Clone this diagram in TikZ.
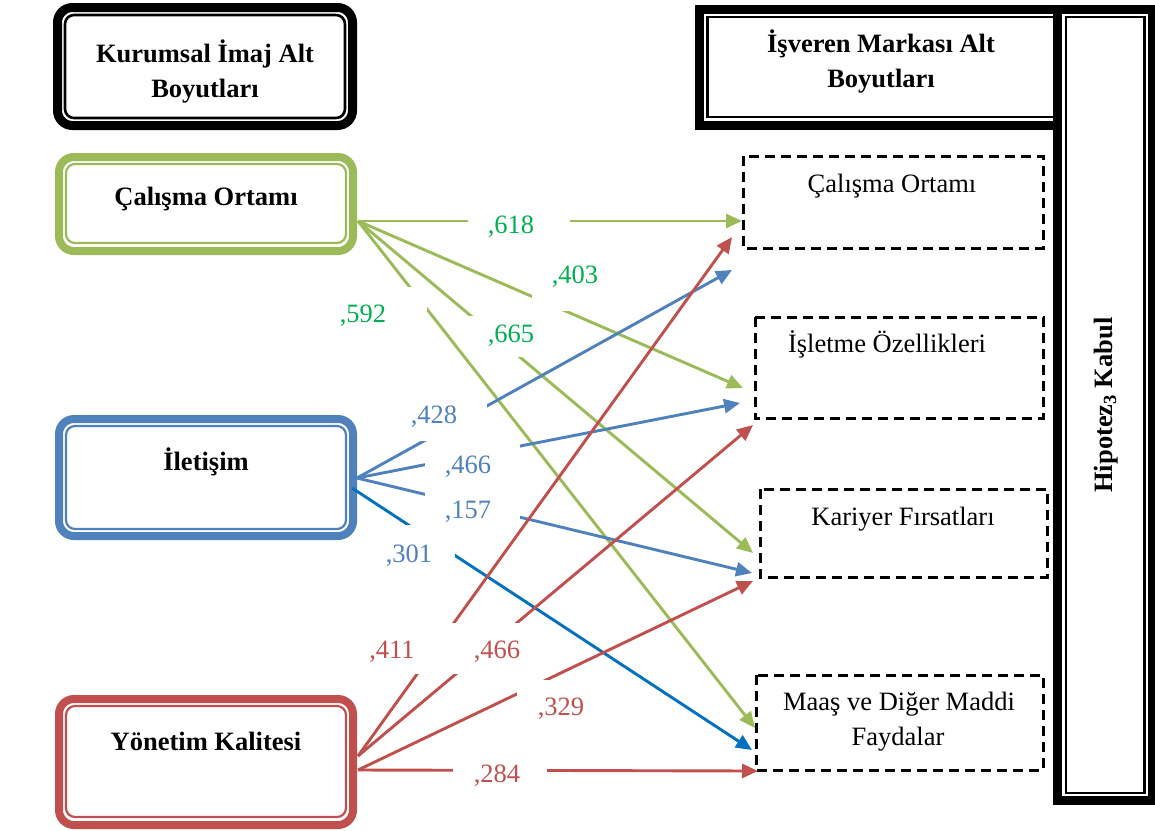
\documentclass[tikz,border=0pt]{standalone}
\usepackage{fontspec}
\setmainfont{Liberation Serif}
\usetikzlibrary{arrows.meta}
\definecolor{cgreen}{HTML}{9BBB59}
\definecolor{cblue}{HTML}{4F81BD}
\definecolor{cred}{HTML}{C0504D}
\definecolor{cdblue}{HTML}{0070C0}
\definecolor{numgreen}{HTML}{00B050}
\begin{document}
\begin{tikzpicture}[x=1pt,y=-1pt,
  txt/.style={font=\fontsize{26.5}{34}\selectfont, inner sep=0pt, anchor=base},
  btxt/.style={txt, font=\fontsize{26.5}{34}\selectfont\bfseries},
  outerframe/.style={line width=8pt, rounded corners=15pt},
  innerframe/.style={line width=2.2pt, rounded corners=9pt},
  heavyframe/.style={line width=9pt},
  thinframe/.style={line width=2.4pt},
  dashbox/.style={draw=black, line width=3pt, dash pattern=on 10pt off 6pt},
  conn/.style={line width=2.9pt, -{Triangle[length=16pt,width=14pt]}},
  mask/.style={fill=white}]

\useasboundingbox (0,0) rectangle (1155,830);
\fill[white] (0,0) rectangle (1155,830);

% ---------- left column: source dimensions ----------
\draw[outerframe, line width=9pt] (57.5,7.5) rectangle (352.5,125.5);
\draw[innerframe, line width=2.6pt] (65,15) rectangle (345,118);
\node[btxt] (kurA) at (205,62) {Kurumsal İmaj Alt};
\node[btxt] (kurB) at (205,97) {Boyutları};

\draw[outerframe, cgreen] (59,157) rectangle (353,251);
\draw[innerframe, cgreen] (66,164) rectangle (346,243);
\node[btxt] (lCO) at (206,205) {Çalışma Ortamı};

\draw[outerframe, cblue] (59,419) rectangle (353,536);
\draw[innerframe, cblue] (66,426) rectangle (346,529);
\node[btxt] (lIL) at (206,470) {İletişim};

\draw[outerframe, cred] (59,699) rectangle (353,825);
\draw[innerframe, cred] (66,706) rectangle (346,817);
\node[btxt] (lYK) at (206,750) {Yönetim Kalitesi};

% ---------- right column: target dimensions ----------
\draw[heavyframe] (699.5,9.5) rectangle (1058,125.5);
\draw[thinframe] (707.5,17) rectangle (1056,117);
\node[btxt] (isvA) at (881,52) {İşveren Markası Alt};
\node[btxt] (isvB) at (881,87) {Boyutları};

\draw[heavyframe, fill=white] (1057.5,9.5) rectangle (1152.5,800.5);
\draw[thinframe] (1066,17) rectangle (1144.5,793);
\node[btxt, rotate=90, anchor=center] (hip) at (1106,405) {Hipotez\textsubscript{3} Kabul};

\draw[dashbox] (743,156) rectangle (1043,248);
\node[txt] (rCO) at (892,192) {Çalışma Ortamı};
\draw[dashbox] (755,317) rectangle (1043,418);
\node[txt] (rIO) at (887,352) {İşletme Özellikleri};
\draw[dashbox] (760,489) rectangle (1047,577);
\node[txt] (rKF) at (903,525) {Kariyer Fırsatları};
\draw[dashbox] (756,675) rectangle (1043,770);
\node[txt] (rMDa) at (899,710) {Maaş ve Diğer Maddi};
\node[txt] (rMDb) at (898,745) {Faydalar};

% ---------- connector end points ----------
\coordinate (gO) at (358,221);
\coordinate (bO) at (357,478);
\coordinate (bO2) at (352,488);
\coordinate (rO) at (358,756);
\coordinate (rO2) at (358,770);

\coordinate (tgCO) at (742,221);
\coordinate (tgIO) at (743,388);
\coordinate (tgKF) at (753,553);
\coordinate (tgMD) at (755,728);
\coordinate (tbCO) at (732,270);
\coordinate (tbIO) at (740,403);
\coordinate (tbKF) at (752,573);
\coordinate (tbMD) at (752,750);
\coordinate (trCO) at (732,237);
\coordinate (trIO) at (753,425);
\coordinate (trKF) at (753,581);
\coordinate (trMD) at (758,771);

% ---------- connectors ----------
\draw[conn, cgreen] (gO) -- (tgCO);
\draw[conn, cgreen] (gO) -- (tgIO);
\draw[conn, cgreen] (gO) -- (tgKF);
\draw[conn, cgreen] (gO) -- (tgMD);

\draw[conn, cblue] (bO) -- (tbCO);
\draw[conn, cblue] (bO) -- (tbIO);
\draw[conn, cblue] (bO) -- (tbKF);
\draw[conn, cdblue] (bO2) -- (tbMD);

\draw[conn, cred] (rO) -- (trCO);
\draw[conn, cred] (rO) -- (trIO);
\draw[conn, cred] (rO2) -- (trKF);
\draw[conn, cred] (rO2) -- (trMD);

% ---------- coefficient labels on white patches ----------
\fill[mask] (468,203) rectangle (570,250);
\node[txt, numgreen] (n618) at (511,233) {,618};
\fill[mask] (532,256) rectangle (622,311);
\node[txt, numgreen] (n403) at (575,283) {,403};
\fill[mask] (468,316) rectangle (570,357);
\node[txt, numgreen] (n665) at (511,342) {,665};
\fill[mask] (300,287) rectangle (427,340);
\node[txt, numgreen] (n592) at (363,322) {,592};

\fill[mask] (380,390) rectangle (487,441);
\node[txt, cblue] (n428) at (434,423) {,428};
\fill[mask] (425,443) rectangle (520,487);
\node[txt, cblue] (n466b) at (468,473) {,466};
\fill[mask] (425,488) rectangle (520,528);
\node[txt, cblue] (n157) at (468,518) {,157};
\fill[mask] (361,525) rectangle (455,580);
\node[txt, cblue] (n301) at (409,562) {,301};

\fill[mask] (350,623) rectangle (455,674);
\node[txt, cred] (n411) at (392,658) {,411};
\fill[mask] (455,623) rectangle (547,674);
\node[txt, cred] (n466r) at (497,658) {,466};
\fill[mask] (517,680) rectangle (613,732);
\node[txt, cred] (n329) at (561,715) {,329};
\fill[mask] (453,748) rectangle (547,800);
\node[txt, cred] (n284) at (497,782) {,284};
\end{tikzpicture}
\end{document}
